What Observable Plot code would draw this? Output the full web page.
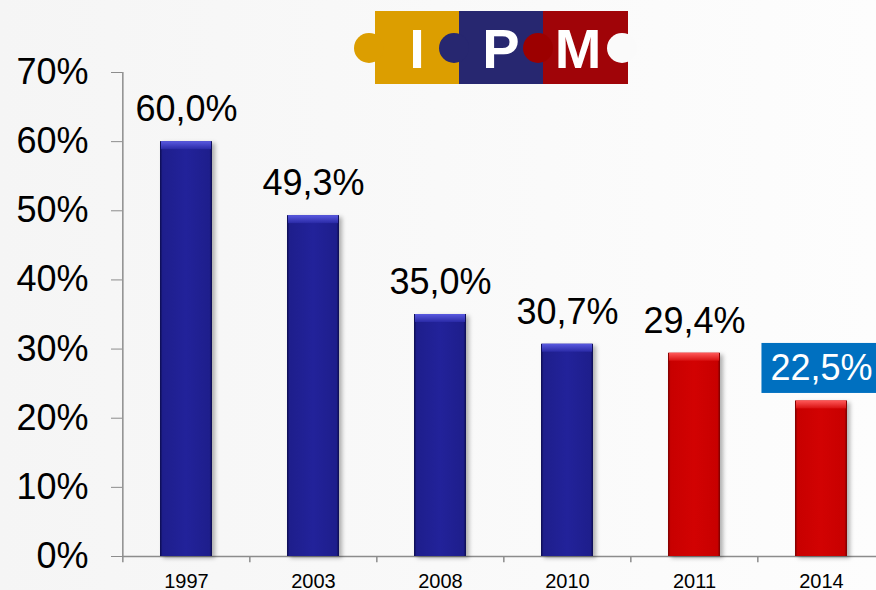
<!DOCTYPE html>
<html><head><meta charset="utf-8">
<script src="https://cdn.jsdelivr.net/npm/d3@7"></script>
<script src="https://cdn.jsdelivr.net/npm/@observablehq/plot@0.6"></script>
<style>
body{margin:0;}
#wrap{position:relative;width:876px;height:590px;background:linear-gradient(to right,#f5f5f5,#fdfdfd);overflow:hidden;font-family:"Liberation Sans",Arial,sans-serif;}
#wrap svg.plot{position:absolute;left:0;top:0;overflow:visible;}
#logo{position:absolute;left:0;top:0;}
</style></head><body><div id="wrap"></div>
<script>
const years = ["1997", "2003", "2008", "2010", "2011", "2014"];
const values = [60.0, 49.3, 35.0, 30.7, 29.4, 22.5];
const groups = ["blue", "blue", "blue", "blue", "red", "red"];
const yTicks = [0, 10, 20, 30, 40, 50, 60, 70];
const highlightYear = "2014";
const logoLetters = ["I", "P", "M"];

const data = years.map((year, i) => ({year, value: values[i], group: groups[i]}));
const fmt = v => v.toFixed(1).replace(".", ",") + "%";

const x0 = 122, x1 = 886;
const step = (x1 - x0) / years.length;

const chart = Plot.plot({
  width: 876, height: 590,
  marginLeft: 122, marginRight: 0, marginTop: 72, marginBottom: 34,
  className: "plot",
  style: {background: "transparent", fontFamily: "'Liberation Sans', Arial, sans-serif", color: "#000", overflow: "visible"},
  x: {domain: years, range: [x0, x1], paddingInner: 0.59, paddingOuter: 0.295, label: null},
  y: {domain: [0, 70], label: null},
  marks: [
    Plot.ruleY([0], {stroke: "#8c8c8c", strokeWidth: 1.5}),
    Plot.ruleX([years[0]], {x: d => d, dx: -step / 2, y1: 0, y2: 70, stroke: "#8c8c8c", strokeWidth: 1.5}),
    Plot.ruleX(years, {x: d => d, dx: -step / 2, y1: 0, y2: -0.9, stroke: "#8c8c8c", strokeWidth: 1.5}),
    Plot.axisY({ticks: yTicks, tickFormat: d => d + "%", tickSize: 11, tickPadding: 23, fontSize: 36, stroke: "#8c8c8c", fill: "#000", label: null}),
    Plot.axisX({tickSize: 0, tickPadding: 17, fontSize: 20, fill: "#000", label: null}),
    Plot.barY(data.filter(d => d.group === "blue"), {x: "year", y: "value", fill: "url(#gBlue)"}),
    Plot.barY(data.filter(d => d.group === "red"), {x: "year", y: "value", fill: "url(#gRed)"}),
    Plot.barY(data.filter(d => d.group === "blue"), {x: "year", y1: "value", y2: "value", insetBottom: -8, insetLeft: 1, insetRight: 1, fill: "url(#gBlueTop)"}),
    Plot.barY(data.filter(d => d.group === "red"), {x: "year", y1: "value", y2: "value", insetBottom: -8, insetLeft: 1, insetRight: 1, fill: "url(#gRedTop)"}),
    Plot.text(data.filter(d => d.year !== highlightYear), {x: "year", y: "value", text: d => fmt(d.value), dy: -32, fontSize: 36, fill: "#000"}),
    Plot.text(data.filter(d => d.year === highlightYear), {x: "year", y: "value", text: d => fmt(d.value), dy: -32, fontSize: 36, fill: "#fff"})
  ]
});

const wrap = document.getElementById("wrap");
wrap.appendChild(chart);

const svg = d3.select(chart);
const defs = svg.insert("defs", ":first-child");
function hGrad(id, edge, mid, center) {
  const g = defs.append("linearGradient").attr("id", id).attr("x1", 0).attr("x2", 1).attr("y1", 0).attr("y2", 0);
  [[0, edge], [0.05, mid], [0.5, center], [0.95, mid], [1, edge]].forEach(([o, c]) => g.append("stop").attr("offset", o).attr("stop-color", c));
}
function vGrad(id, top, bottom) {
  const g = defs.append("linearGradient").attr("id", id).attr("x1", 0).attr("x2", 0).attr("y1", 0).attr("y2", 1);
  [[0, top], [1, bottom]].forEach(([o, c]) => g.append("stop").attr("offset", o).attr("stop-color", c));
}
hGrad("gBlue", "#0c0c50", "#1e1e8c", "#22229a");
hGrad("gRed", "#7a0000", "#c80000", "#d20202");
vGrad("gBlueTop", "#5a5ae0", "#2a2aa6");
vGrad("gRedTop", "#ff5a5a", "#d81010");

const barGroups = chart.querySelectorAll('g[aria-label="bar"]');
[0, 1].forEach(i => { if (barGroups[i]) barGroups[i].style.filter = "drop-shadow(3px 2px 2px rgba(0,0,0,0.3))"; });

// highlight box behind the 2014 label
const textGroups = chart.querySelectorAll('g[aria-label="text"]');
const hg = textGroups[textGroups.length - 1];
const ht = hg ? hg.querySelector("text") : null;
if (ht) {
  const bb = ht.getBBox();
  const tr = ht.getAttribute("transform");
  const cy = bb.y + bb.height / 2;
  const rect = document.createElementNS("http://www.w3.org/2000/svg", "rect");
  rect.setAttribute("x", bb.x - 9);
  rect.setAttribute("y", cy - 25);
  rect.setAttribute("width", bb.width + 18);
  rect.setAttribute("height", 50);
  rect.setAttribute("fill", "#0070c0");
  if (tr) rect.setAttribute("transform", tr);
  ht.parentNode.insertBefore(rect, ht);
}

// logo
const logo = d3.select(wrap).append("svg").attr("id", "logo").attr("width", 876).attr("height", 100);
const logoColors = ["#dc9e00", "#272770", "#a00408"];
const lx = [375, 459, 543];
logoColors.forEach((c, i) => logo.append("rect").attr("x", lx[i]).attr("y", 11).attr("width", 85).attr("height", 73).attr("fill", c));
logo.append("circle").attr("cx", 369).attr("cy", 48).attr("r", 15).attr("fill", "#dc9e00");
logo.append("circle").attr("cx", 454).attr("cy", 48).attr("r", 15).attr("fill", "#272770");
logo.append("circle").attr("cx", 538).attr("cy", 48).attr("r", 15).attr("fill", "#9c0000");
logo.append("circle").attr("cx", 622).attr("cy", 48).attr("r", 15).attr("fill", "#fafafa");
const letterX = [417, 501, 578];
logoLetters.forEach((t, i) => logo.append("text").attr("x", letterX[i]).attr("y", 68).attr("text-anchor", "middle")
  .attr("font-family", "'Liberation Sans', Arial, sans-serif").attr("font-weight", "bold").attr("font-size", 56).attr("fill", "#fff").text(t));
</script></body></html>
